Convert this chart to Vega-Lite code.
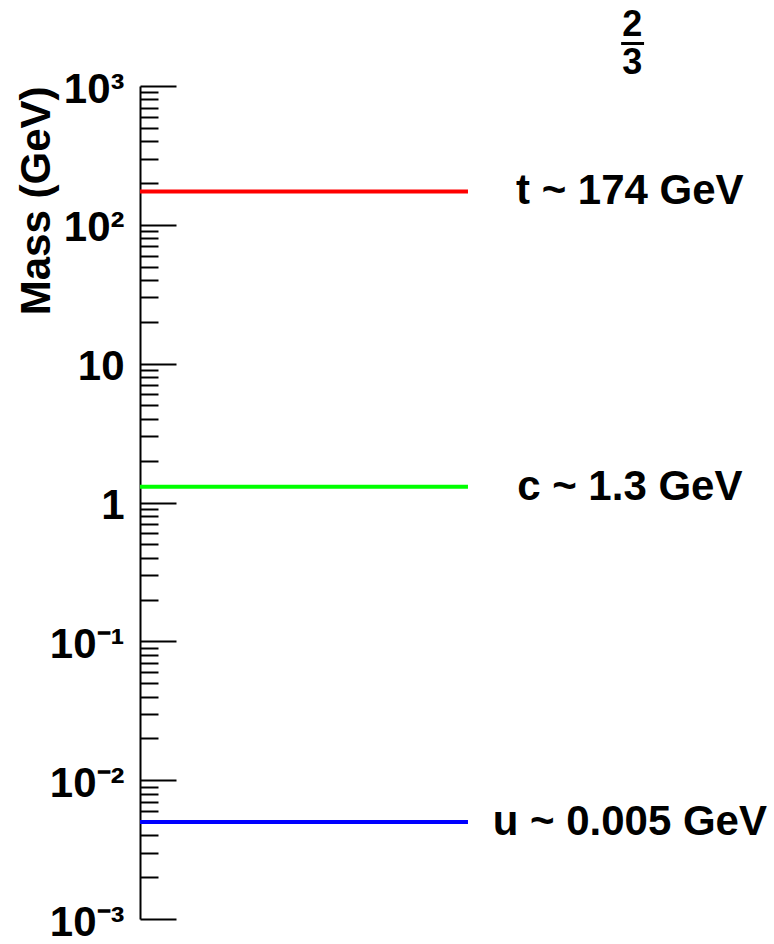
{
  "$schema": "https://vega.github.io/schema/vega-lite/v6.json",
  "width": 620,
  "height": 833,
  "autosize": {"type": "none"},
  "padding": {"left": 140, "top": 86, "right": 14, "bottom": 25},
  "background": "white",
  "config": {"view": {"stroke": null}},
  "layer": [
    {
      "data": {"values": [
        {"quark": "t", "mass": 174, "label": "t ~ 174 GeV"},
        {"quark": "c", "mass": 1.3, "label": "c ~ 1.3 GeV"},
        {"quark": "u", "mass": 0.005, "label": "u ~ 0.005 GeV"}
      ]},
      "layer": [
        {
          "mark": {"type": "rule", "strokeWidth": 4},
          "encoding": {
            "y": {
              "field": "mass", "type": "quantitative",
              "scale": {"type": "log", "domain": [0.001, 1000], "nice": false, "zero": false},
              "axis": {
                "orient": "left",
                "values": [0.001,0.002,0.003,0.004,0.005,0.006,0.007,0.008,0.009,0.01,0.02,0.03,0.04,0.05,0.06,0.07,0.08,0.09,0.1,0.2,0.3,0.4,0.5,0.6,0.7,0.8,0.9,1,2,3,4,5,6,7,8,9,10,20,30,40,50,60,70,80,90,100,200,300,400,500,600,700,800,900,1000],
                "grid": false,
                "domain": true,
                "domainColor": "black",
                "domainWidth": 2,
                "tickColor": "black",
                "tickWidth": 2,
                "tickSize": {"condition": {"test": "indexof([0.001,0.01,0.1,1,10,100,1000], datum.value) >= 0", "value": -36}, "value": -18},
                "labelExpr": "datum.value==1000?'10³':datum.value==100?'10²':datum.value==10?'10':datum.value==1?'1':datum.value==0.1?'10⁻¹':datum.value==0.01?'10⁻²':datum.value==0.001?'10⁻³':''",
                "labelFont": "Liberation Sans",
                "labelFontWeight": "bold",
                "labelFontSize": 42,
                "labelColor": "black",
                "labelPadding": 52,
                "labelOffset": 3,
                "labelOverlap": false,
                "labelFlush": false,
                "labelBound": false,
                "title": "Mass (GeV)",
                "titleFont": "Liberation Sans",
                "titleFontWeight": "bold",
                "titleFontSize": 42,
                "titleColor": "black",
                "titleAngle": -90,
                "titleAlign": "right",
                "titleBaseline": "middle",
                "titleX": -104,
                "titleY": 0
              }
            },
            "x": {"datum": 0, "type": "quantitative", "scale": {"domain": [0, 1], "nice": false, "zero": false}, "axis": null},
            "x2": {"datum": 0.529},
            "color": {
              "field": "quark", "type": "nominal",
              "scale": {"domain": ["t", "c", "u"], "range": ["#ff0000", "#00ff00", "#0000ff"]},
              "legend": null
            }
          }
        },
        {
          "mark": {"type": "text", "font": "Liberation Sans", "fontWeight": "bold", "fontSize": 42, "align": "center", "baseline": "middle", "color": "black"},
          "encoding": {
            "y": {"field": "mass", "type": "quantitative"},
            "x": {"datum": 0.79, "type": "quantitative"},
            "text": {"field": "label"}
          }
        }
      ]
    },
    {
      "data": {"values": [{"charge_num": "2", "charge_den": "3"}]},
      "layer": [
        {
          "mark": {"type": "text", "font": "Liberation Sans", "fontWeight": "bold", "fontSize": 36, "align": "center", "baseline": "alphabetic", "color": "black"},
          "encoding": {
            "y": {"datum": 2291, "type": "quantitative"},
            "x": {"datum": 0.794, "type": "quantitative"},
            "text": {"field": "charge_num"}
          }
        },
        {
          "mark": {"type": "rule", "strokeWidth": 3, "color": "black"},
          "encoding": {
            "y": {"datum": 2023, "type": "quantitative"},
            "x": {"datum": 0.776, "type": "quantitative"},
            "x2": {"datum": 0.813}
          }
        },
        {
          "mark": {"type": "text", "font": "Liberation Sans", "fontWeight": "bold", "fontSize": 36, "align": "center", "baseline": "alphabetic", "color": "black"},
          "encoding": {
            "y": {"datum": 1220, "type": "quantitative"},
            "x": {"datum": 0.794, "type": "quantitative"},
            "text": {"field": "charge_den"}
          }
        }
      ]
    }
  ]
}
